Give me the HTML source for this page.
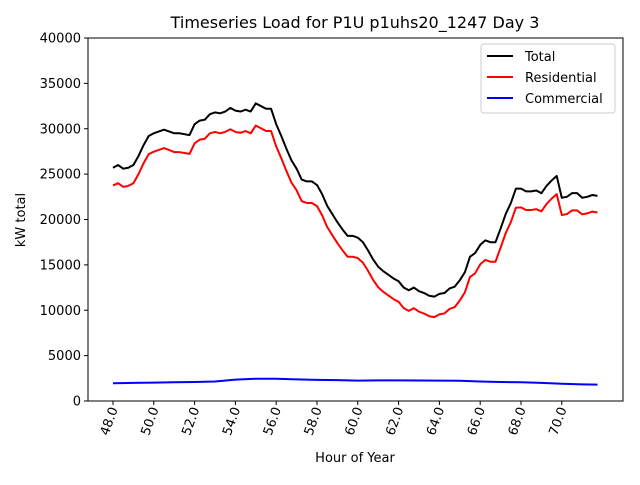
<!DOCTYPE html>
<html><head><meta charset="utf-8"><style>
body{margin:0;background:#fff;font-family:"Liberation Sans","DejaVu Sans",sans-serif}
</style></head><body>
<svg id="c" width="640" height="480" xmlns="http://www.w3.org/2000/svg" font-family="DejaVu Sans, Liberation Sans, sans-serif">
<text x="355" y="28" text-anchor="middle" font-size="16">Timeseries Load for P1U p1uhs20_1247  Day 3</text>
<text x="355" y="462" text-anchor="middle" font-size="13">Hour of Year</text>
<text transform="translate(25,220) rotate(-90)" text-anchor="middle" font-size="13">kW total</text>
<g id="marks"></g>
<rect x="88" y="38" width="535" height="363" fill="none" stroke="#000" stroke-width="1"/>
<g>
<rect x="481" y="44" width="134" height="69" rx="3" fill="#fff" fill-opacity="0.8" stroke="#ccc"/>
<line x1="487" y1="56" x2="513" y2="56" stroke="#000" stroke-width="2"/><text x="525" y="61" font-size="13">Total</text>
<line x1="487" y1="77" x2="513" y2="77" stroke="red" stroke-width="2"/><text x="525" y="82" font-size="13">Residential</text>
<line x1="487" y1="98" x2="513" y2="98" stroke="blue" stroke-width="2"/><text x="525" y="103" font-size="13">Commercial</text>
</g>
</svg>
<script>
const hours=[];for(let i=0;i<96;i++)hours.push(48+i*0.25);
const total=[25700,26000,25600,25700,26000,27000,28200,29200,29500,29700,29900,29700,29500,29500,29400,29300,30500,30900,31000,31600,31800,31700,31900,32300,32000,31900,32100,31900,32800,32500,32200,32200,30500,29200,27800,26500,25600,24400,24200,24200,23800,22800,21500,20600,19700,18900,18200,18200,18000,17500,16600,15600,14800,14300,13900,13500,13200,12500,12200,12500,12100,11900,11600,11500,11800,11900,12400,12600,13300,14200,15900,16300,17200,17700,17500,17500,19000,20600,21800,23400,23400,23100,23100,23200,22900,23700,24300,24800,22400,22500,22900,22900,22400,22500,22700,22600];
const residential=[23750,24000,23600,23700,24000,25000,26200,27200,27470,27670,27870,27670,27430,27430,27330,27230,28400,28800,28900,29500,29650,29500,29650,29950,29650,29550,29750,29500,30350,30050,29750,29750,28050,26750,25350,24050,23220,22020,21820,21820,21470,20470,19170,18270,17400,16600,15900,15900,15750,15250,14350,13350,12530,12030,11630,11230,10930,10230,9930,10230,9840,9640,9340,9240,9550,9650,10150,10350,11070,11970,13670,14070,15050,15550,15350,15350,16900,18500,19700,21300,21340,21040,21040,21140,20900,21700,22300,22800,20500,20600,21000,21000,20570,20670,20870,20770];
const commHours=[48,49,50,51,52,53,54,55,56,57,58,59,60,61,62,63,64,65,66,67,68,69,70,71,71.75];
const commercial=[1950,2000,2030,2070,2100,2150,2350,2450,2450,2380,2330,2300,2250,2270,2270,2260,2250,2230,2150,2100,2060,2000,1900,1830,1800];
const yTicks=[0,5000,10000,15000,20000,25000,30000,35000,40000];
const xTicks=[48,50,52,54,56,58,60,62,64,66,68,70];
const X=h=>113+(h-48)*20.4, Y=v=>401-v*363/40000;
const NS="http://www.w3.org/2000/svg",svg=document.getElementById('c'),g=document.getElementById('marks');
function mk(t,a,p){const e=document.createElementNS(NS,t);for(const k in a)e.setAttribute(k,a[k]);(p||g).appendChild(e);return e;}
yTicks.forEach(v=>{
 const l=mk('line',{x1:84,x2:88,y1:Y(v),y2:Y(v),stroke:'#000'});
 
 
 const t=mk('text',{x:81,y:Y(v)+4.5,'text-anchor':'end','font-size':13});t.textContent=v;
 
 
});
xTicks.forEach(h=>{
 const l=mk('line',{x1:X(h),x2:X(h),y1:401,y2:405,stroke:'#000'});
 
 
 const t=mk('text',{transform:`translate(${X(h)+5},409) rotate(-70)`,'text-anchor':'end','font-size':13});t.textContent=h.toFixed(1);
 
 
});
function line(xs,ys,col,name){
 const p=mk('polyline',{points:xs.map((h,i)=>X(h)+','+Y(ys[i])).join(' '),fill:'none',stroke:col,'stroke-width':2,'stroke-linejoin':'round'});
 
 
}
line(hours,total,'#000','total-line');
line(hours,residential,'red','residential-line');
line(commHours,commercial,'blue','commercial-line');
</script>
</body></html>
